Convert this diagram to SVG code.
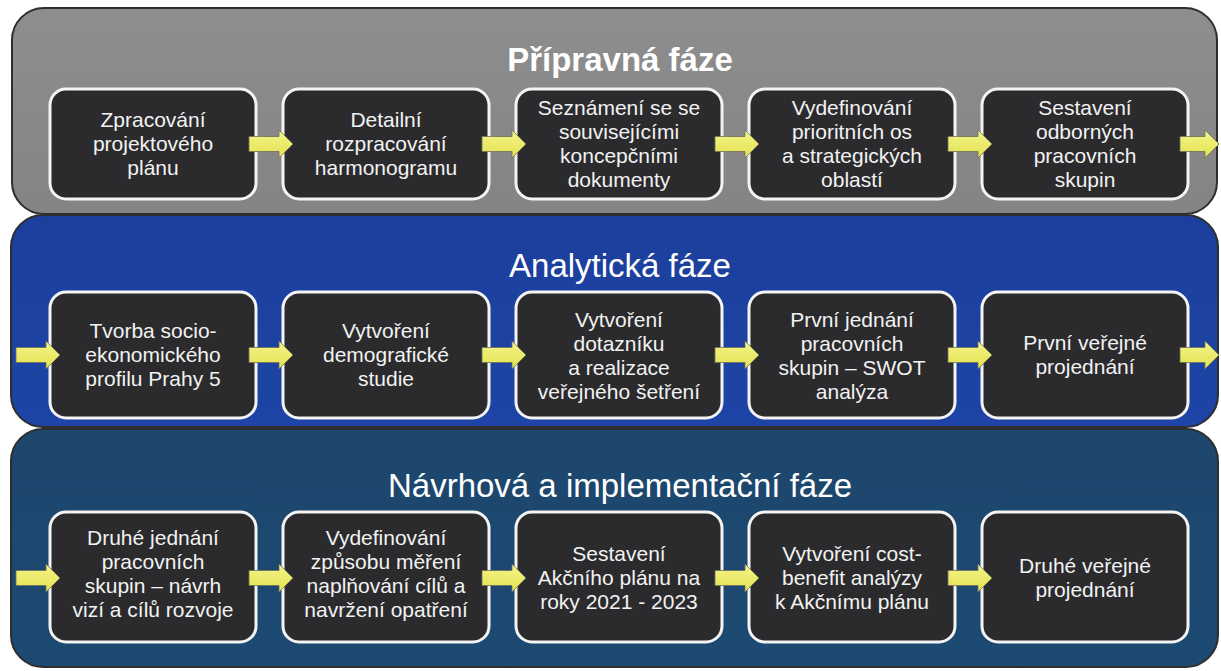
<svg xmlns="http://www.w3.org/2000/svg" width="1221" height="671" viewBox="0 0 1221 671">
<defs>
<linearGradient id="gGray" x1="0" y1="0" x2="0" y2="1"><stop offset="0" stop-color="#8e8e8e"/><stop offset="1" stop-color="#848484"/></linearGradient>
<linearGradient id="gBlue" x1="0" y1="0" x2="0" y2="1"><stop offset="0" stop-color="#1c3f9c"/><stop offset="1" stop-color="#1d44a6"/></linearGradient>
<linearGradient id="gTeal" x1="0" y1="0" x2="0" y2="1"><stop offset="0" stop-color="#1d466c"/><stop offset="1" stop-color="#1c4a72"/></linearGradient>
<linearGradient id="gArrow" x1="0" y1="0" x2="0" y2="1"><stop offset="0" stop-color="#f4f48a"/><stop offset="1" stop-color="#e2e250"/></linearGradient>
<style>
.panel{stroke:#2e2e2e;stroke-width:2}
.box{fill:#2b2b2d;stroke:#f4f4f4;stroke-width:3}
.boxsh{fill:none;stroke:#777;stroke-width:1.2}
.t{font-family:"Liberation Sans",Arial,sans-serif;font-size:21px;fill:#f2f2f2;text-anchor:middle}
.title{font-family:"Liberation Sans",Arial,sans-serif;font-size:33px;fill:#ffffff;text-anchor:middle}
.arr{fill:url(#gArrow);stroke:#6e6e5a;stroke-width:0.8}
</style>
</defs>
<rect width="1221" height="671" fill="#ffffff"/>

<g id="panel-priprava">
<rect class="panel" x="12" y="8" width="1205" height="206" rx="32" fill="url(#gGray)"/>
<text class="title" x="620" y="71" font-weight="bold">Přípravná fáze</text>
</g>
<g id="panel-analyticka">
<rect class="panel" x="11" y="215" width="1207" height="212" rx="32" fill="url(#gBlue)"/>
<text class="title" x="620" y="277">Analytická fáze</text>
</g>
<g id="panel-navrhova">
<rect class="panel" x="11" y="429" width="1207" height="238" rx="32" fill="url(#gTeal)"/>
<text class="title" x="620" y="497">Návrhová a implementační fáze</text>
</g>

<!-- Row 1 -->
<g id="n1-1"><rect class="box" x="50" y="89" width="206" height="110" rx="16"/>
<text class="t" x="153"><tspan x="153" y="127">Zpracování</tspan><tspan x="153" y="151">projektového</tspan><tspan x="153" y="175">plánu</tspan></text></g>
<g id="n1-2"><rect class="box" x="283" y="89" width="206" height="110" rx="16"/>
<text class="t"><tspan x="386" y="127">Detailní</tspan><tspan x="386" y="151">rozpracování</tspan><tspan x="386" y="175">harmonogramu</tspan></text></g>
<g id="n1-3"><rect class="box" x="516" y="89" width="206" height="110" rx="16"/>
<text class="t"><tspan x="619" y="115">Seznámení se se</tspan><tspan x="619" y="139">souvisejícími</tspan><tspan x="619" y="163">koncepčními</tspan><tspan x="619" y="187">dokumenty</tspan></text></g>
<g id="n1-4"><rect class="box" x="749" y="89" width="206" height="110" rx="16"/>
<text class="t"><tspan x="852" y="115">Vydefinování</tspan><tspan x="852" y="139">prioritních os</tspan><tspan x="852" y="163">a strategických</tspan><tspan x="852" y="187">oblastí</tspan></text></g>
<g id="n1-5"><rect class="box" x="982" y="89" width="206" height="110" rx="16"/>
<text class="t"><tspan x="1085" y="115">Sestavení</tspan><tspan x="1085" y="139">odborných</tspan><tspan x="1085" y="163">pracovních</tspan><tspan x="1085" y="187">skupin</tspan></text></g>

<!-- Row 2 -->
<g id="n2-1"><rect class="box" x="50" y="292" width="206" height="126" rx="16"/>
<text class="t"><tspan x="153" y="338">Tvorba socio-</tspan><tspan x="153" y="362">ekonomického</tspan><tspan x="153" y="386">profilu Prahy 5</tspan></text></g>
<g id="n2-2"><rect class="box" x="283" y="292" width="206" height="126" rx="16"/>
<text class="t"><tspan x="386" y="338">Vytvoření</tspan><tspan x="386" y="362">demografické</tspan><tspan x="386" y="386">studie</tspan></text></g>
<g id="n2-3"><rect class="box" x="516" y="292" width="206" height="126" rx="16"/>
<text class="t"><tspan x="619" y="327">Vytvoření</tspan><tspan x="619" y="351">dotazníku</tspan><tspan x="619" y="375">a realizace</tspan><tspan x="619" y="399">veřejného šetření</tspan></text></g>
<g id="n2-4"><rect class="box" x="749" y="292" width="206" height="126" rx="16"/>
<text class="t"><tspan x="852" y="327">První jednání</tspan><tspan x="852" y="351">pracovních</tspan><tspan x="852" y="375">skupin – SWOT</tspan><tspan x="852" y="399">analýza</tspan></text></g>
<g id="n2-5"><rect class="box" x="982" y="292" width="206" height="126" rx="16"/>
<text class="t"><tspan x="1085" y="350">První veřejné</tspan><tspan x="1085" y="374">projednání</tspan></text></g>

<!-- Row 3 -->
<g id="n3-1"><rect class="box" x="50" y="512" width="206" height="130" rx="16"/>
<text class="t"><tspan x="153" y="545">Druhé jednání</tspan><tspan x="153" y="569">pracovních</tspan><tspan x="153" y="593">skupin – návrh</tspan><tspan x="153" y="617">vizí a cílů rozvoje</tspan></text></g>
<g id="n3-2"><rect class="box" x="283" y="512" width="206" height="130" rx="16"/>
<text class="t"><tspan x="386" y="545">Vydefinování</tspan><tspan x="386" y="569">způsobu měření</tspan><tspan x="386" y="593">naplňování cílů a</tspan><tspan x="386" y="617">navržení opatření</tspan></text></g>
<g id="n3-3"><rect class="box" x="516" y="512" width="206" height="130" rx="16"/>
<text class="t"><tspan x="619" y="561">Sestavení</tspan><tspan x="619" y="585">Akčního plánu na</tspan><tspan x="619" y="609">roky 2021 - 2023</tspan></text></g>
<g id="n3-4"><rect class="box" x="749" y="512" width="206" height="130" rx="16"/>
<text class="t"><tspan x="852" y="561">Vytvoření cost-</tspan><tspan x="852" y="585">benefit analýzy</tspan><tspan x="852" y="609">k Akčnímu plánu</tspan></text></g>
<g id="n3-5"><rect class="box" x="982" y="512" width="206" height="130" rx="16"/>
<text class="t"><tspan x="1085" y="573">Druhé veřejné</tspan><tspan x="1085" y="597">projednání</tspan></text></g>

<g id="connectors">
<!-- row 1, cy=144 -->
<path class="arr" d="M249,136.5 H279 V130 L293,144 L279,158 V151.5 H249 Z"/>
<path class="arr" d="M482,136.5 H512 V130 L526,144 L512,158 V151.5 H482 Z"/>
<path class="arr" d="M715,136.5 H745 V130 L759,144 L745,158 V151.5 H715 Z"/>
<path class="arr" d="M948,136.5 H978 V130 L992,144 L978,158 V151.5 H948 Z"/>
<path class="arr" d="M1180,136.5 H1205 V130 L1219,144 L1205,158 V151.5 H1180 Z"/>
<!-- row 2, cy=355 -->
<path class="arr" d="M16,347.5 H46 V341 L60,355 L46,369 V362.5 H16 Z"/>
<path class="arr" d="M249,347.5 H279 V341 L293,355 L279,369 V362.5 H249 Z"/>
<path class="arr" d="M482,347.5 H512 V341 L526,355 L512,369 V362.5 H482 Z"/>
<path class="arr" d="M715,347.5 H745 V341 L759,355 L745,369 V362.5 H715 Z"/>
<path class="arr" d="M948,347.5 H978 V341 L992,355 L978,369 V362.5 H948 Z"/>
<path class="arr" d="M1180,347.5 H1205 V341 L1219,355 L1205,369 V362.5 H1180 Z"/>
<!-- row 3, cy=578 -->
<path class="arr" d="M16,570.5 H46 V564 L60,578 L46,592 V585.5 H16 Z"/>
<path class="arr" d="M249,570.5 H279 V564 L293,578 L279,592 V585.5 H249 Z"/>
<path class="arr" d="M482,570.5 H512 V564 L526,578 L512,592 V585.5 H482 Z"/>
<path class="arr" d="M715,570.5 H745 V564 L759,578 L745,592 V585.5 H715 Z"/>
<path class="arr" d="M948,570.5 H978 V564 L992,578 L978,592 V585.5 H948 Z"/>
</g>
</svg>
